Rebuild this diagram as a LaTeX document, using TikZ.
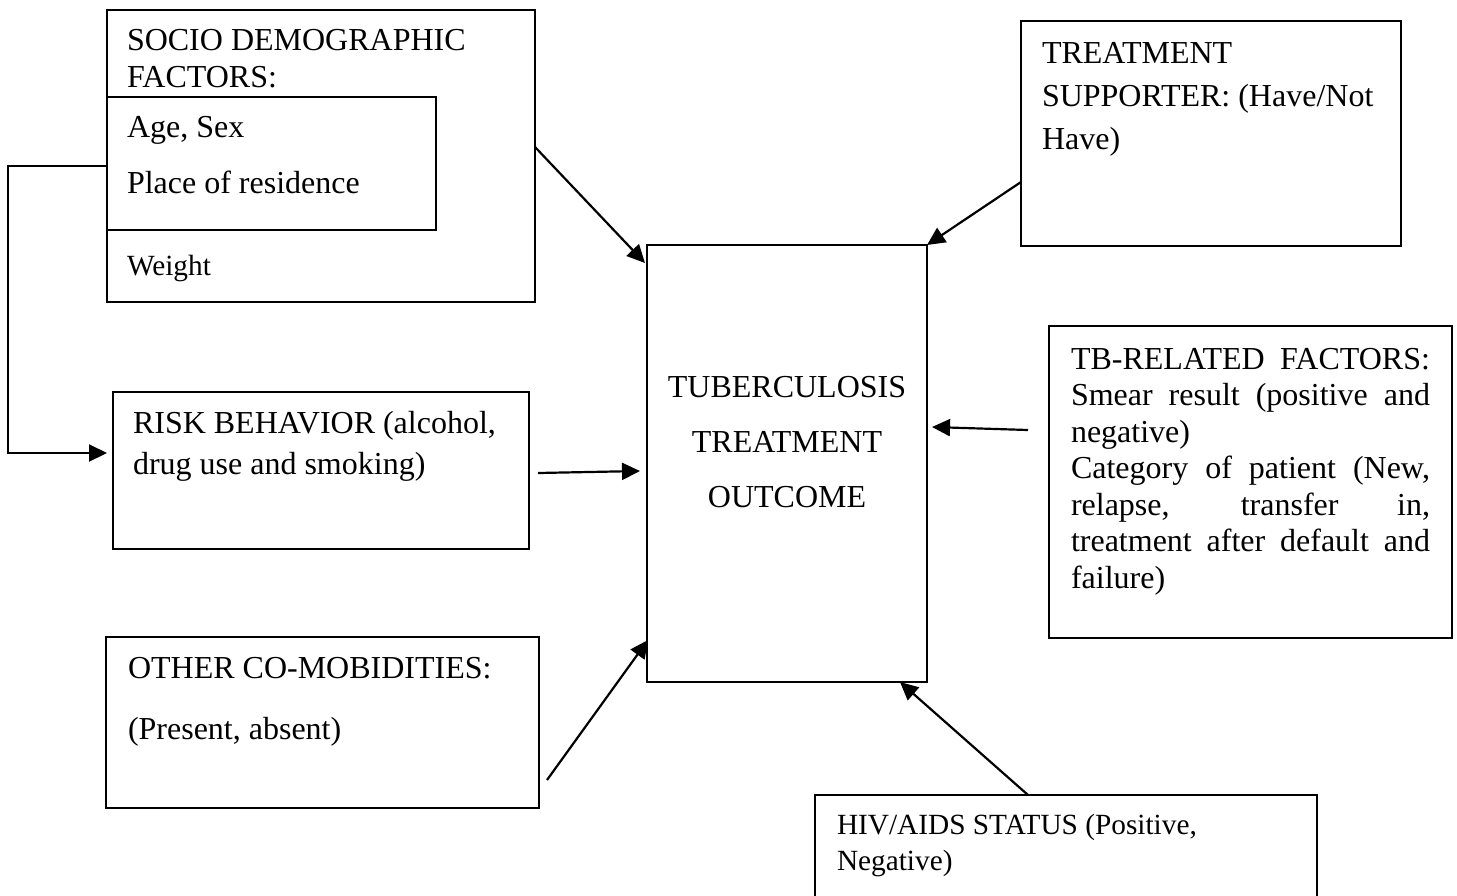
\documentclass[tikz,border=0pt]{standalone}
\usepackage{fontspec}
\setmainfont{Liberation Serif}
\usetikzlibrary{arrows.meta,calc}
\tikzset{
  box/.style={draw, line width=2.2pt, inner sep=0pt, outer sep=0pt, anchor=north west},
  txt/.style={inner sep=0pt, outer sep=0pt, anchor=base west, font=\fontsize{32}{38}\selectfont},
  txtsm/.style={txt, font=\fontsize{29.3}{35}\selectfont},
  arr/.style={line width=2.2pt, -{Triangle[length=18pt,width=17pt]}}
}
\begin{document}
\begin{tikzpicture}[x=1pt,y=-1pt]
\clip (0,0) rectangle (1457,895);
\fill[white] (0,0) rectangle (1457,895);
% boxes
\node[box, minimum width=428pt, minimum height=292pt] (soc) at (107,10) {};
\node[box, minimum width=329pt, minimum height=133pt] (inner) at (107,97) {};
\node[box, minimum width=416pt, minimum height=157pt] (risk) at (113,392) {};
\node[box, minimum width=433pt, minimum height=171pt] (oth) at (106,637) {};
\node[box, minimum width=280pt, minimum height=437pt] (out) at (647,245) {};
\node[box, minimum width=380pt, minimum height=225pt] (sup) at (1021,21) {};
\node[box, minimum width=403pt, minimum height=312pt] (tb) at (1049,326) {};
\node[box, minimum width=502pt, minimum height=125pt] (hiv) at (815,795) {};
% texts
\node[txt] (s1) at (127,50) {SOCIO DEMOGRAPHIC};
\node[txt] (s2) at (127,87) {FACTORS:};
\node[txt] (s3) at (127,137) {Age, Sex};
\node[txt] (s4) at (127,193) {Place of residence};
\node[txtsm] (s5) at (127,275) {Weight};
\node[txt] (p1) at (1042,63) {TREATMENT};
\node[txt] (p2) at (1042,106) {SUPPORTER: (Have/Not};
\node[txt] (p3) at (1042,149) {Have)};
\node[txt, anchor=base] (o1) at (787,397) {TUBERCULOSIS};
\node[txt, anchor=base] (o2) at (787,452) {TREATMENT};
\node[txt, anchor=base] (o3) at (787,507) {OUTCOME};
\node[txt] (r1) at (133,433) {RISK BEHAVIOR (alcohol,};
\node[txt] (r2) at (133,474) {drug use and smoking)};
\node[txt] (c1) at (128,678) {OTHER CO-MOBIDITIES:};
\node[txt] (c2) at (128,739) {(Present, absent)};
\node[txt] (b1) at (1071,369) {\makebox[359pt][s]{TB-RELATED FACTORS:}};
\node[txt] (b2) at (1071,405.5) {\makebox[359pt][s]{Smear result (positive and}};
\node[txt] (b3) at (1071,442) {negative)};
\node[txt] (b4) at (1071,478.5) {\makebox[359pt][s]{Category of patient (New,}};
\node[txt] (b5) at (1071,515) {\makebox[359pt][s]{relapse, transfer in,}};
\node[txt] (b6) at (1071,551.5) {\makebox[359pt][s]{treatment after default and}};
\node[txt] (b7) at (1071,588) {failure)};
\node[txtsm] (h1) at (837,834) {HIV/AIDS STATUS (Positive,};
\node[txtsm] (h2) at (837,870) {Negative)};
% connectors
\draw[arr] ($(soc.north east)+(0,137)$) -- ($(out.north west)+(-2,18)$);
\draw[arr] ($(sup.north west)+(0,161)$) -- (out.north east);
\draw[arr] ($(tb.north west)+(-21,104)$) -- ($(out.north east)+(5,182)$);
\draw[arr] ($(risk.north east)+(9,81)$) -- ($(out.north west)+(-7,226)$);
\draw[arr] ($(oth.north east)+(8,143)$) -- ($(out.south west)+(1,-42)$);
\draw[arr] ($(hiv.north west)+(213,0)$) -- ($(out.south east)+(-27,0)$);
\draw[arr] ($(inner.north west)+(0,69)$) -- ++(-99,0) |- ($(risk.north west)+(-6,61)$);
\end{tikzpicture}
\end{document}
